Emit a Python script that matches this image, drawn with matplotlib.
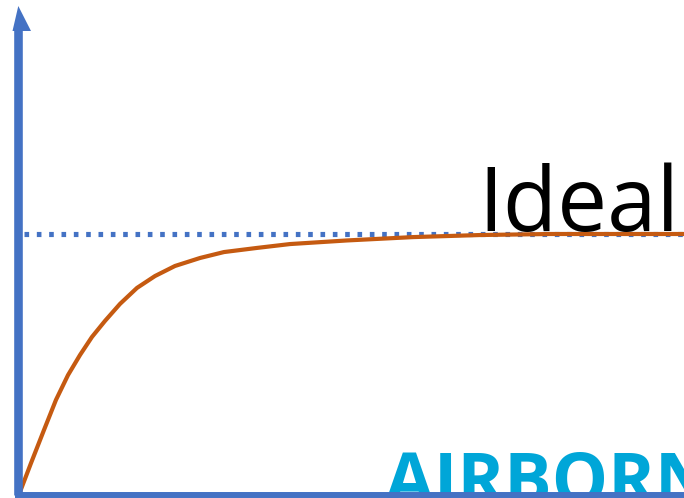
import matplotlib
matplotlib.use("Agg")
import matplotlib.pyplot as plt
from matplotlib.patches import Polygon

# curve: time (0-100) vs performance (% of ideal)
time_pts = [0, 1.66, 3.61, 5.42, 7.23, 9.04, 10.84, 12.80, 15.06, 17.62,
            20.33, 23.34, 27.11, 30.72, 35.69, 40.66, 49.25, 59.19, 69.28,
            79.82, 100]
perf_pts = [0, 11.2, 24.0, 35.7, 45.3, 53.1, 60.1, 66.3, 72.9, 79.1,
            83.7, 87.6, 90.7, 93.0, 94.6, 96.1, 97.5, 98.8, 99.6,
            100, 100]
ideal_level = 100
ideal_label = "Ideal"
watermark = "AIRBORNE"

BLUE = "#4472C4"
ORANGE = "#C55A11"
CYAN = "#00A6D8"

fig = plt.figure(figsize=(6.84, 4.98), dpi=100)
ax = fig.add_axes([0, 0, 1, 1])
ax.set_xlim(-3.01, 100)
ax.set_ylim(-2.33, 190.7)
ax.axis("off")

# watermark sits behind the axis line
ax.text(0.563, -0.011, watermark, transform=ax.transAxes, fontsize=51,
        fontweight="bold", family="Open Sans", color=CYAN,
        ha="left", va="baseline", zorder=1)

# ideal dotted line
ax.plot([0.6, 100], [ideal_level, ideal_level], color=BLUE, lw=3.7,
        linestyle=(0, (0.9, 1.5)), dash_capstyle="butt", zorder=2)

# response curve
ax.plot(time_pts, perf_pts, color=ORANGE, lw=3.0, solid_capstyle="butt",
        solid_joinstyle="round", zorder=3)

ax.text(0.993, 0.536, ideal_label, transform=ax.transAxes, fontsize=64,
        family="Open Sans", color="black", ha="right", va="baseline",
        zorder=4)

# axes drawn as thick blue lines, arrow on y
tr = ax.transAxes
ax.plot([18 / 684, 18 / 684], [3 / 498, 468 / 498], transform=tr,
        color=BLUE, lw=6.2, solid_capstyle="butt", zorder=5)
ax.plot([15 / 684, 1], [3.5 / 498, 3.5 / 498], transform=tr,
        color=BLUE, lw=4.3, solid_capstyle="butt", zorder=5)
head = Polygon([[18.3 / 684, 492 / 498], [12.5 / 684, 467 / 498],
                [31 / 684, 467 / 498]], closed=True, transform=tr,
               facecolor=BLUE, edgecolor="none", zorder=5)
ax.add_patch(head)

fig.savefig("out.png", dpi=100, facecolor="white")
